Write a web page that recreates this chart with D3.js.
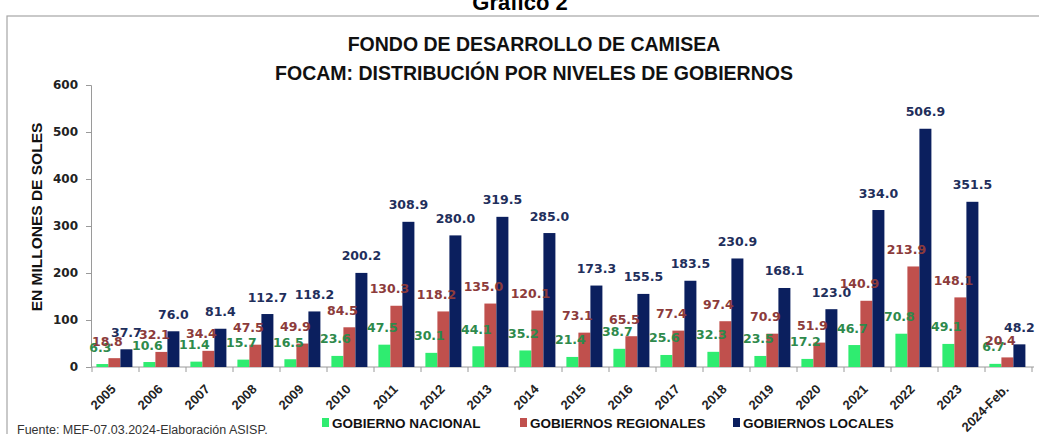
<!DOCTYPE html>
<html>
<head>
<meta charset="utf-8">
<script src="https://cdn.jsdelivr.net/npm/d3@7/dist/d3.min.js"></script>
<style>
  html, body { margin: 0; padding: 0; background: #fff; }
  svg { display: block; }
</style>
</head>
<body>
<script>
// ---------------- DATA ----------------
const years = ["2005","2006","2007","2008","2009","2010","2011","2012","2013","2014",
               "2015","2016","2017","2018","2019","2020","2021","2022","2023","2024-Feb."];
const gobiernoNacional    = [6.3,10.6,11.4,15.7,16.5,23.6,47.5,30.1,44.1,35.2,21.4,38.7,25.6,32.3,23.5,17.2,46.7,70.8,49.1,6.7];
const gobiernosRegionales = [18.8,32.1,34.4,47.5,49.9,84.5,130.3,118.2,135.0,120.1,73.1,65.5,77.4,97.4,70.9,51.9,140.9,213.9,148.1,20.4];
const gobiernosLocales    = [37.7,76.0,81.4,112.7,118.2,200.2,308.9,280.0,319.5,285.0,173.3,155.5,183.5,230.9,168.1,123.0,334.0,506.9,351.5,48.2];
const seriesNames = ["GOBIERNO NACIONAL","GOBIERNOS REGIONALES","GOBIERNOS LOCALES"];
const yTicks = [0,100,200,300,400,500,600];
const chartTitle = ["FONDO DE DESARROLLO DE CAMISEA","FOCAM: DISTRIBUCIÓN POR NIVELES DE GOBIERNOS"];
const yTitle = "EN MILLONES DE SOLES";
const sourceNote = "Fuente:  MEF-07.03.2024-Elaboración ASISP.";
const headerText = "Gráfico 2";

// ---------------- STYLE ----------------
const W = 1039, H = 434;
const barColors   = ["#2fec70", "#c0504d", "#0b1f5e"];
const labelColors = ["#2e8a4c", "#8c3b3b", "#1f2f5c"];
const labelDx     = [-2, -7, 0];
const axisColor = "#9a9a9a";

const svg = d3.select("body").append("svg").attr("width", W).attr("height", H);

// frame and header
svg.append("rect").attr("x", 7).attr("y", 16).attr("width", W + 20).attr("height", H + 20)
  .attr("fill", "none").attr("stroke", "#a6a6a6").attr("stroke-width", 1.2);
svg.append("text").attr("x", 520).attr("y", 10).attr("text-anchor", "middle")
  .attr("font-family", "Liberation Sans, Arial, sans-serif").attr("font-weight", "bold")
  .attr("font-size", 22).attr("fill", "#000").text(headerText);

// titles
chartTitle.forEach((t, i) => {
  svg.append("text").attr("x", 534).attr("y", 51 + i * 29).attr("text-anchor", "middle")
    .attr("font-family", "Liberation Sans, Arial, sans-serif").attr("font-weight", "bold")
    .attr("font-size", 19.5).attr("fill", "#111").text(t);
});

// scales
const x0 = d3.scaleBand().domain(years).range([92, 1032]).paddingInner(0).paddingOuter(0);
const x1 = d3.scaleBand().domain(d3.range(3)).range([0, x0.bandwidth()])
  .paddingInner(0).paddingOuter(0.458).align(0.4);
const y = d3.scaleLinear().domain([0, 600]).range([367, 85]);

// y axis
const yAxis = svg.append("g").attr("transform", "translate(91,0)")
  .call(d3.axisLeft(y).tickValues(yTicks).tickSize(5).tickPadding(8).tickFormat(d3.format("d")));
yAxis.select(".domain").attr("stroke", axisColor);
yAxis.selectAll(".tick line").attr("stroke", axisColor);
yAxis.selectAll(".tick text").attr("font-family", "DejaVu Sans, sans-serif")
  .attr("font-weight", "bold").attr("font-size", 12).attr("fill", "#222");

// y title
svg.append("text").attr("transform", "translate(42,217) rotate(-90)").attr("text-anchor", "middle")
  .attr("font-family", "Liberation Sans, Arial, sans-serif").attr("font-weight", "bold")
  .attr("font-size", 15.5).attr("fill", "#111").text(yTitle);

// x axis
const xAxisG = svg.append("g");
xAxisG.append("line").attr("x1", 91).attr("x2", 1034).attr("y1", y(0)).attr("y2", y(0))
  .attr("stroke", axisColor);
const boundaries = years.map(d => x0(d)).concat([x0.range()[1]]);
xAxisG.selectAll("line.tk").data(boundaries).join("line").attr("class", "tk")
  .attr("x1", d => d).attr("x2", d => d).attr("y1", y(0)).attr("y2", y(0) + 5)
  .attr("stroke", axisColor);
xAxisG.selectAll("text").data(years).join("text")
  .attr("transform", d => `translate(${x0(d) + x0.bandwidth() / 2 + 1},${y(0) + 23}) rotate(-45)`)
  .attr("text-anchor", "end")
  .attr("font-family", "Liberation Sans, Arial, sans-serif").attr("font-weight", "bold")
  .attr("font-size", 13).attr("fill", "#222").text(d => d);

// data
const series = [gobiernoNacional, gobiernosRegionales, gobiernosLocales];
const fmt = d3.format(".1f");

// bars
series.forEach((vals, s) => {
  svg.append("g").selectAll("rect").data(vals).join("rect")
    .attr("x", (v, i) => x0(years[i]) + x1(s))
    .attr("width", x1.bandwidth())
    .attr("y", v => y(v))
    .attr("height", v => y(0) - y(v))
    .attr("fill", barColors[s]);
});

// labels on top
series.forEach((vals, s) => {
  svg.append("g").selectAll("text").data(vals).join("text")
    .attr("x", (v, i) => x0(years[i]) + x1(s) + x1.bandwidth() / 2 + labelDx[s])
    .attr("y", v => y(v) - 12.5)
    .attr("text-anchor", "middle")
    .attr("font-family", "DejaVu Sans, sans-serif").attr("font-weight", "bold")
    .attr("font-size", 12.5).attr("fill", labelColors[s]).text(v => fmt(v));
});

// legend
const legendX = [322, 520, 733];
const lg = svg.append("g");
seriesNames.forEach((n, s) => {
  lg.append("rect").attr("x", legendX[s]).attr("y", 418).attr("width", 7).attr("height", 9)
    .attr("fill", barColors[s]);
  lg.append("text").attr("x", legendX[s] + 10).attr("y", 427.5)
    .attr("font-family", "Liberation Sans, Arial, sans-serif").attr("font-weight", "bold")
    .attr("font-size", 13.5).attr("fill", "#111").text(n);
});

// source
svg.append("text").attr("x", 17).attr("y", 434)
  .attr("font-family", "Liberation Sans, Arial, sans-serif")
  .attr("font-size", 12.5).attr("fill", "#333").text(sourceNote);
</script>
</body>
</html>
